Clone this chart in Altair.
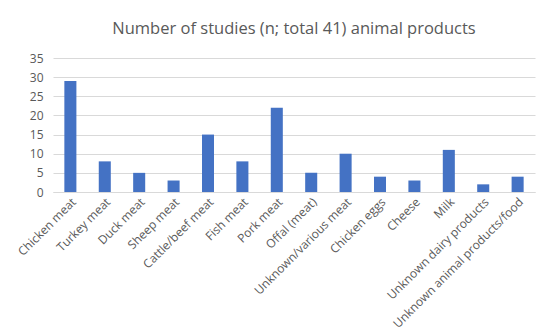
import altair as alt
import pandas as pd

categories = ["Chicken meat", "Turkey meat", "Duck meat", "Sheep meat", "Cattle/beef meat",
              "Fish meat", "Pork meat", "Offal (meat)", "Unknown/various meat", "Chicken eggs",
              "Cheese", "Milk", "Unknown dairy products", "Unknown animal products/food"]
values = [29, 8, 5, 3, 15, 8, 22, 5, 10, 4, 3, 11, 2, 4]

df = pd.DataFrame({"cat": categories, "n": values})

font = "Open Sans"
chart = alt.Chart(df).mark_bar(color="#4472C4").encode(
    x=alt.X("cat:N", sort=categories, title=None,
            scale=alt.Scale(paddingInner=0.65, paddingOuter=0.33),
            axis=alt.Axis(labelAngle=-45, labelAlign="right", labelBaseline="top",
                          labelFont=font, labelFontSize=12, labelColor="#595959",
                          ticks=False, domainColor="#D9D9D9", labelPadding=4,
                          labelLimit=300)),
    y=alt.Y("n:Q", title=None,
            scale=alt.Scale(domain=[0, 35]),
            axis=alt.Axis(values=[0, 5, 10, 15, 20, 25, 30, 35], domain=False, ticks=False,
                          gridColor="#D9D9D9", labelFont=font, labelFontSize=12,
                          labelColor="#595959", labelPadding=10)),
).properties(
    width=482, height=134,
    title=alt.TitleParams("Number of studies (n; total 41) animal products",
                          font=font, fontSize=16.5, fontWeight="normal",
                          color="#595959", anchor="middle", offset=15),
    padding={"left": 7, "top": 12, "right": 5, "bottom": 5},
).configure_view(stroke=None)

chart.save("out.html", embed_options={"renderer": "svg", "actions": False})
